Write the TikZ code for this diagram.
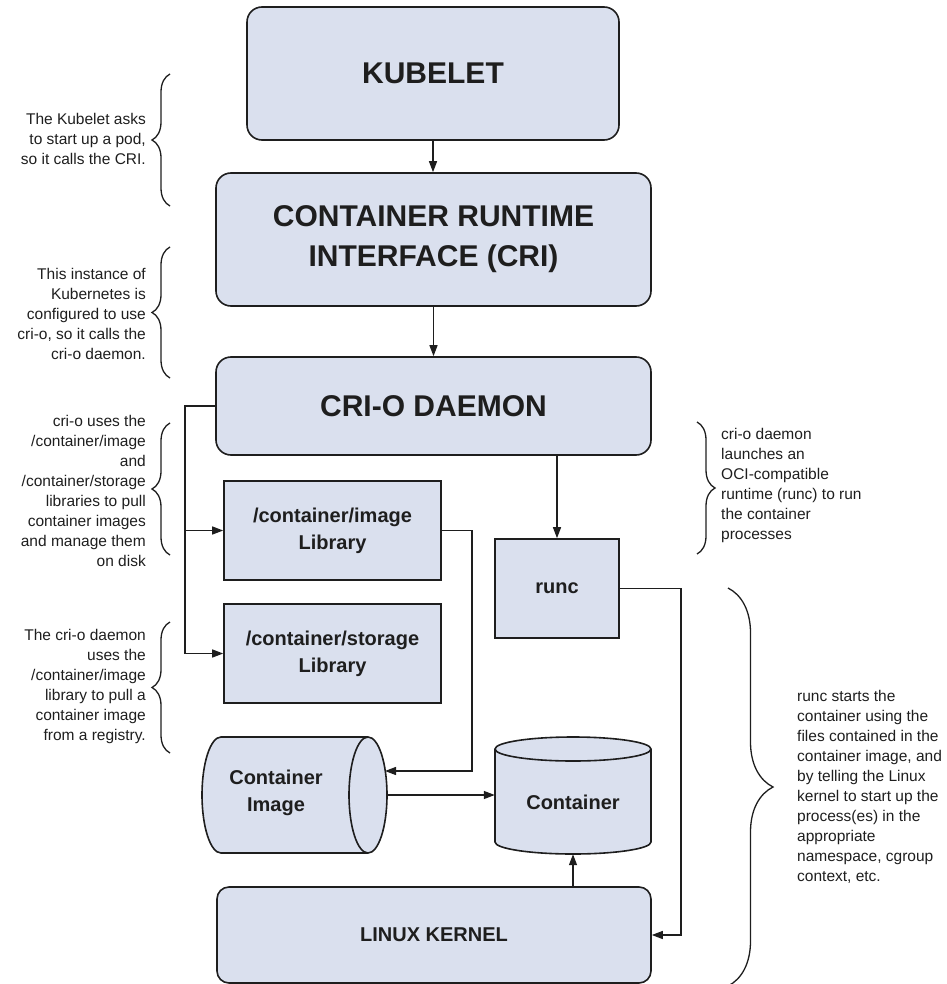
\documentclass[tikz,border=0pt]{standalone}
\usepackage{fontspec}
\setmainfont{Liberation Sans}
\usetikzlibrary{arrows.meta,decorations.pathreplacing}
\definecolor{boxfill}{RGB}{218,224,238}
\definecolor{ink}{RGB}{30,30,30}
\begin{document}
\begin{tikzpicture}[x=1pt,y=-1pt,
 box/.style={draw=ink, line width=1.6pt, fill=boxfill, inner sep=0pt, align=center, text=ink, font=\bfseries\fontsize{20}{27}\selectfont},
 bigbox/.style={box, rounded corners=15pt, font=\bfseries\fontsize{30}{40}\selectfont},
 cyl/.style={draw=ink, line width=1.6pt, fill=boxfill},
 cyltext/.style={inner sep=0pt, align=center, text=ink, font=\bfseries\fontsize{20}{27}\selectfont},
 conn/.style={draw=ink, line width=1.3pt},
 arr/.style={conn, -{Triangle[length=11pt,width=8pt]}},
 note/.style={inner sep=0pt, text=ink, font=\fontsize{15.5}{20}\selectfont},
 lnote/.style={note, anchor=east, align=right},
 rnote/.style={note, anchor=west, align=left},
 brc/.style={draw=ink, line width=1.3pt, decorate, decoration={brace, amplitude=#1}},
]
\useasboundingbox (0,0) rectangle (946,984);

% main boxes
\node[bigbox, minimum width=372pt, minimum height=133pt] (kubelet) at (433,73.5) {KUBELET};
\node[bigbox, minimum width=435pt, minimum height=133pt] (cri) at (433.5,239.5) {CONTAINER RUNTIME\\INTERFACE (CRI)};
\node[bigbox, minimum width=435pt, minimum height=98pt] (crio) at (433.5,406) {CRI-O DAEMON};
\node[box, minimum width=217pt, minimum height=99pt] (imglib) at (332.5,530.5) {/container/image\\Library};
\node[box, minimum width=217pt, minimum height=99pt] (storlib) at (332.5,653.5) {/container/storage\\Library};
\node[box, minimum width=124pt, minimum height=99pt] (runc) at (557,588.5) {runc};
\node[box, rounded corners=12pt, minimum width=434pt, minimum height=96pt] (kernel) at (434,935) {LINUX KERNEL};

% Container Image (horizontal cylinder)
\path[cyl] (221,737) -- (368,737) arc[start angle=90, end angle=-90, x radius=19pt, y radius=58pt]
  -- (221,853) arc[start angle=270, end angle=90, x radius=19pt, y radius=58pt] -- cycle;
\draw[ink, line width=1.6pt] (368,737) arc[start angle=90, end angle=270, x radius=19pt, y radius=58pt];
\node[cyltext] (cimg) at (276,793) {Container\\Image};
\coordinate (cimgE) at (387,795);
\coordinate (cimgin) at (385,771);

% Container (vertical cylinder)
\path[cyl] (495,749) arc[start angle=180, end angle=0, x radius=78pt, y radius=12pt]
  -- (651,842) arc[start angle=0, end angle=-180, x radius=78pt, y radius=12pt] -- cycle;
\draw[ink, line width=1.6pt] (495,749) arc[start angle=180, end angle=360, x radius=78pt, y radius=12pt];
\node[cyltext, minimum width=156pt, minimum height=104pt] (cont) at (573,802) {Container};

% connectors
\draw[arr] (kubelet.south) -- (kubelet.south |- cri.north);
\draw[arr] (cri.south) -- (cri.south |- crio.north);
\coordinate (split) at (185,406);
\draw[arr] (crio.west) -- (split) |- (imglib.west);
\draw[arr] (split) |- (storlib.west);
\coordinate (imgbus) at (472,530.5);
\draw[arr] (imglib.east) -- (imgbus) |- (cimgin);
\draw[arr] (crio.south -| runc.north) -- (runc.north);
\coordinate (runcbus) at (681,588.5);
\draw[arr] (runc.east) -- (runcbus) |- (kernel.east);
\draw[arr] (kernel.north -| cont.south) -- (cont.south);
\draw[arr] (cimgE) -- (cimgE -| cont.west);

% annotations
\draw[brc=18pt] (170,206) -- (170,74);
\node[lnote] (n1) at (146,139) {The Kubelet asks\\to start up a pod,\\so it calls the CRI.};
\draw[brc=18pt] (170,378) -- (170,247);
\node[lnote] (n2) at (146,314) {This instance of\\Kubernetes is\\configured to use\\cri-o, so it calls the\\cri-o daemon.};
\draw[brc=18pt] (170,555) -- (170,423);
\node[lnote] (n3) at (146,491) {cri-o uses the\\/container/image\\and\\/container/storage\\libraries to pull\\container images\\and manage them\\on disk};
\draw[brc=18pt] (170,753) -- (170,622);
\node[lnote] (n4) at (146,686) {The cri-o daemon\\uses the\\/container/image\\library to pull a\\container image\\from a registry.};
\draw[brc=18pt] (697,422) -- (697,554);
\node[rnote] (n5) at (721,485) {cri-o daemon\\launches an\\OCI-compatible\\runtime (runc) to run\\the container\\processes};
\draw[brc=45pt] (728,588) -- (728,986);
\node[rnote] (n6) at (797,787) {runc starts the\\container using the\\files contained in the\\container image, and\\by telling the Linux\\kernel to start up the\\process(es) in the\\appropriate\\namespace, cgroup\\context, etc.};
\end{tikzpicture}
\end{document}
